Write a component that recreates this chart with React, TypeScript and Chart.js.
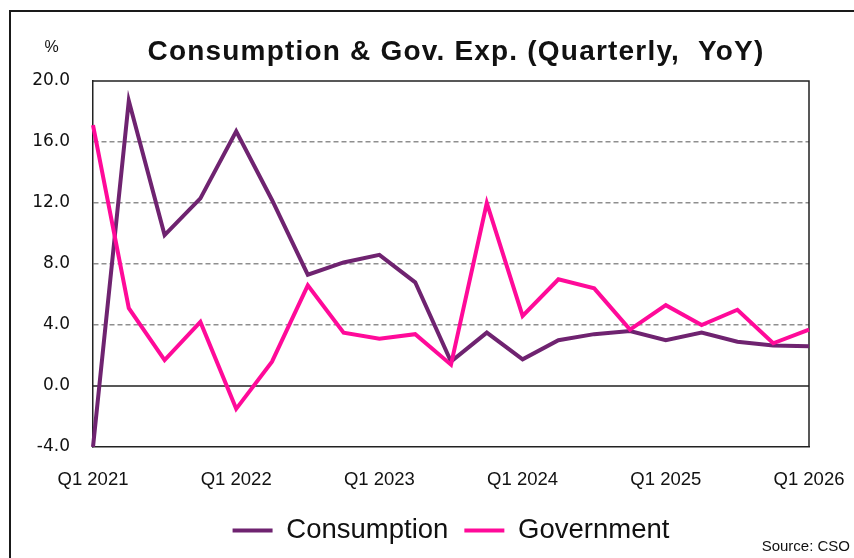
import React, { useEffect, useRef } from "react";
import { Chart, registerables } from "chart.js";

Chart.register(...registerables);

const TITLE = "Consumption & Gov. Exp. (Quarterly,  YoY)";
const UNIT = "%";
const SOURCE = "Source: CSO";

const quarters = [
  "Q1 2021", "Q2 2021", "Q3 2021", "Q4 2021",
  "Q1 2022", "Q2 2022", "Q3 2022", "Q4 2022",
  "Q1 2023", "Q2 2023", "Q3 2023", "Q4 2023",
  "Q1 2024", "Q2 2024", "Q3 2024", "Q4 2024",
  "Q1 2025", "Q2 2025", "Q3 2025", "Q4 2025",
  "Q1 2026",
];

const consumption = [
  -4.0, 18.7, 9.9, 12.3, 16.7, 12.2, 7.3, 8.1, 8.6, 6.8, 1.6,
  3.5, 1.75, 3.0, 3.4, 3.6, 3.0, 3.5, 2.9, 2.65, 2.6,
];

const government = [
  17.1, 5.1, 1.7, 4.2, -1.5, 1.6, 6.6, 3.5, 3.1, 3.4, 1.4,
  12.0, 4.6, 7.0, 6.4, 3.7, 5.3, 4.0, 5.0, 2.8, 3.7,
];

const Y_MIN = -4;
const Y_MAX = 20;
const Y_STEP = 4;

const FONT = '"Liberation Sans", Arial, Helvetica, sans-serif';
const PURPLE = "#6F2370";
const PINK = "#FF0A99";

const decorPlugin = {
  id: "decor",
  beforeDraw(chart: any) {
    const { ctx } = chart;
    ctx.save();
    ctx.fillStyle = "#ffffff";
    ctx.fillRect(0, 0, chart.width, chart.height);
    ctx.strokeStyle = "#1a1a1a";
    ctx.lineWidth = 2;
    ctx.strokeRect(10, 11, chart.width + 40, chart.height + 40);

    ctx.fillStyle = "#111111";
    ctx.textBaseline = "alphabetic";
    ctx.textAlign = "center";
    ctx.font = `bold 28px ${FONT}`;
    (ctx as any).letterSpacing = "1.2px";
    ctx.fillText(TITLE, 456, 59.5);
    (ctx as any).letterSpacing = "0px";

    ctx.font = `16px ${FONT}`;
    ctx.fillText(UNIT, 51.5, 52);

    ctx.textAlign = "right";
    ctx.font = `15px ${FONT}`;
    ctx.fillText(SOURCE, 850, 551);
    ctx.restore();
  },
  beforeDatasetsDraw(chart: any) {
    const { ctx, chartArea: a, scales } = chart;
    const y0 = scales.y.getPixelForValue(0);
    ctx.save();
    ctx.strokeStyle = "#222222";
    ctx.lineWidth = 1.5;
    ctx.beginPath();
    ctx.moveTo(a.left, y0);
    ctx.lineTo(a.right, y0);
    ctx.moveTo(a.left, a.top);
    ctx.lineTo(a.right, a.top);
    ctx.lineTo(a.right, a.bottom);
    ctx.stroke();
    ctx.restore();
  },
};

export default function App() {
  const ref = useRef<HTMLCanvasElement>(null);

  useEffect(() => {
    if (!ref.current) return;
    const chart = new Chart(ref.current, {
      type: "line",
      data: {
        labels: quarters,
        datasets: [
          {
            label: "Consumption",
            data: consumption,
            borderColor: PURPLE,
            backgroundColor: PURPLE,
            borderWidth: 4,
            pointRadius: 0,
            tension: 0,
            order: 2,
          },
          {
            label: "Government",
            data: government,
            borderColor: PINK,
            backgroundColor: PINK,
            borderWidth: 4,
            pointRadius: 0,
            tension: 0,
            order: 1,
          },
        ],
      },
      options: {
        responsive: false,
        animation: false,
        layout: { padding: { top: 81, right: 45, bottom: 3.75, left: 20 } },
        plugins: {
          title: { display: false },
          tooltip: { enabled: false },
          legend: {
            position: "bottom",
            fullSize: false,
            labels: {
              usePointStyle: true,
              pointStyle: "line",
              pointStyleWidth: 40,
              padding: 16,
              color: "#111111",
              font: { family: FONT, size: 27.5 },
              sort: (a: any, b: any) => a.datasetIndex - b.datasetIndex,
            },
          },
        },
        scales: {
          x: {
            type: "category",
            offset: false,
            grid: { display: false },
            border: { display: true, color: "#222222", width: 1.5 },
            ticks: {
              autoSkip: false,
              maxRotation: 0,
              minRotation: 0,
              padding: 14,
              color: "#111111",
              font: { family: FONT, size: 18.5 },
              callback: (_v: any, i: number) => (i % 4 === 0 ? quarters[i] : ""),
            },
            afterFit: (s: any) => {
              s.height = 53.75;
              s.paddingLeft = 0;
              s.paddingRight = 0;
            },
          },
          y: {
            min: Y_MIN,
            max: Y_MAX,
            ticks: {
              stepSize: Y_STEP,
              padding: 23,
              color: "#111111",
              font: { family: '"DejaVu Sans", sans-serif', size: 17 },
              callback: (v: any) => Number(v).toFixed(1),
            },
            grid: {
              drawTicks: false,
              lineWidth: 1.5,
              color: (c: any) =>
                c.tick && (c.tick.value === 0 || c.tick.value === Y_MAX || c.tick.value === Y_MIN)
                  ? "rgba(0,0,0,0)"
                  : "#8f8f8f",
            },
            border: { display: true, color: "#222222", width: 1.5, dash: [5, 3] },
            afterFit: (s: any) => {
              s.width = 73;
              s.paddingTop = 0;
              s.paddingBottom = 0;
            },
          },
        },
      },
      plugins: [decorPlugin],
    });
    return () => chart.destroy();
  }, []);

  return (
    <div style={{ position: "absolute", left: 0, top: 0, width: 854, height: 558, background: "#fff" }}>
      <canvas ref={ref} width={854} height={558} style={{ display: "block", width: 854, height: 558 }} />
    </div>
  );
}
